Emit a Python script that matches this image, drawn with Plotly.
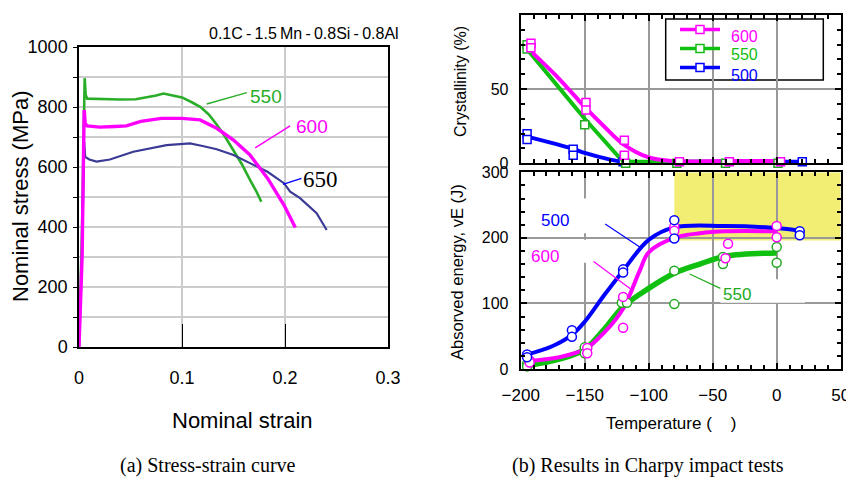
import plotly.graph_objects as go

# page body has an 8 px default margin: the figure is drawn from (8, 8)
OFF = 8
W, H = 846, 480

# ---------------- (a) stress-strain data ----------------
strain_550 = [0, 0.003, 0.0055, 0.0065, 0.008, 0.02, 0.04, 0.055, 0.065, 0.075, 0.082, 0.09, 0.1, 0.11, 0.118,
              0.126, 0.134, 0.142, 0.15, 0.158, 0.166, 0.172, 0.177]
stress_550 = [0, 400, 896, 840, 828, 826, 825, 826, 832, 838, 845, 840, 832, 815, 800, 775, 740, 700, 657, 610,
              557, 520, 484]
strain_600 = [0, 0.003, 0.005, 0.006, 0.008, 0.02, 0.035, 0.046, 0.06, 0.08, 0.1, 0.1175, 0.1337, 0.15, 0.166,
              0.183, 0.199, 0.21]
stress_600 = [0, 300, 790, 745, 737, 733, 735, 737, 752, 762, 762, 757, 729, 690, 640, 563, 473, 398]
strain_650 = [0, 0.003, 0.005, 0.006, 0.01, 0.017, 0.03, 0.0527, 0.085, 0.1078, 0.12, 0.1337, 0.15, 0.166,
              0.183, 0.199, 0.205, 0.2146, 0.2307, 0.2405]
stress_650 = [0, 300, 684, 634, 625, 618, 625, 651, 673, 679, 670, 659, 640, 612, 584, 546, 518, 496, 446, 390]

# ---------------- (b) crystallinity data ----------------
cr_line_T_600 = [-195, -170, -150, -135, -120, -100, -80, -40, 0]
cr_line_600 = [78, 57, 38, 25, 13, 4, 1.5, 1.5, 1.5]
cr_line_T_550 = [-195, -150, -120, -80, -40, 0]
cr_line_550 = [77, 30, 1, 1, 1, 1]
cr_line_T_500 = [-195, -160, -150, -130, -120, -80, 18]
cr_line_500 = [18, 10, 7, 2.5, 1, 1, 1]

cr_pts_T_600 = [-192, -192, -149, -149, -119, -119, -76, -37, 3]
cr_pts_600 = [81, 78, 41, 36, 15.5, 5.5, 1, 1, 1]
cr_pts_T_550 = [-195, -195, -150, -119, -118, -78, -40, 1]
cr_pts_550 = [80, 77, 26, 5, 0, 0, 0, 0]
cr_pts_T_500 = [-195, -195, -159, -159, -120, 20]
cr_pts_500 = [20, 16, 9.5, 5.5, 1, 1]

# ---------------- (b) absorbed energy data ----------------
ae_line_T_500 = [-195, -175, -160, -150, -135, -120, -100, -80, -40, 0, 18]
ae_line_500 = [22, 35, 52, 72, 112, 150, 197, 216, 218, 215, 211]
ae_line_T_600 = [-195, -170, -150, -135, -120, -107, -100, -80, -60, -40, 0]
ae_line_600 = [12, 18, 30, 55, 92, 150, 178, 200, 207, 210, 210]
ae_line_T_550 = [-195, -170, -150, -135, -120, -100, -80, -60, -40, 0]
ae_line_550 = [5, 15, 30, 60, 95, 123, 146, 160, 172, 177]

ae_pts_T_500 = [-195, -195, -160, -160, -120, -120, -80, -80, 18, 18]
ae_pts_500 = [22, 18, 59, 49, 152, 147, 227, 199, 210, 204]
ae_pts_T_600 = [-193, -193, -148, -148, -120, -120, -80, -80, -38, -40, 0, 0]
ae_pts_600 = [13, 10, 32, 24, 110, 63, 217, 211, 191, 169, 218, 201]
ae_pts_T_550 = [-195, -195, -150, -150, -121, -117, -80, -80, -42, -42, 0, 0]
ae_pts_550 = [8, 4, 33, 24, 101, 101, 150, 99, 171, 160, 186, 162]

legend_names = ["600", "550", "500"]

MAG = "#ff00ff"
GRN_L = "#2aae2a"
NAVY = "#3b3b96"
GRN = "#10c010"
GRN_M = "#22aa22"
BLU = "#0000ff"
legend_colors = [MAG, GRN, BLU]

SANS = "Liberation Sans, Arial, sans-serif"
SERIF = "Liberation Serif, Times New Roman, serif"


def px(x):
    return (x - OFF) / W


def py(y):
    return 1 - (y - OFF) / H


fig = go.Figure()

# left chart curves
fig.add_trace(go.Scatter(x=strain_550, y=stress_550, mode="lines", line=dict(color=GRN_L, width=2.6),
                         xaxis="x", yaxis="y", showlegend=False))
fig.add_trace(go.Scatter(x=strain_650, y=stress_650, mode="lines", line=dict(color=NAVY, width=2.2),
                         xaxis="x", yaxis="y", showlegend=False))
fig.add_trace(go.Scatter(x=strain_600, y=stress_600, mode="lines", line=dict(color=MAG, width=3.4),
                         xaxis="x", yaxis="y", showlegend=False))

# crystallinity
for T, v, c, shp in [(cr_line_T_500, cr_line_500, BLU, "spline"), (cr_line_T_550, cr_line_550, GRN, "linear"),
                     (cr_line_T_600, cr_line_600, MAG, "spline")]:
    fig.add_trace(go.Scatter(x=T, y=v, mode="lines", line=dict(color=c, width=4, shape=shp),
                             xaxis="x2", yaxis="y2", showlegend=False))
for T, v, c in [(cr_pts_T_500, cr_pts_500, BLU), (cr_pts_T_550, cr_pts_550, GRN_M), (cr_pts_T_600, cr_pts_600, MAG)]:
    fig.add_trace(go.Scatter(x=T, y=v, mode="markers",
                             marker=dict(symbol="square", size=8, color="white", line=dict(color=c, width=1.5)),
                             xaxis="x2", yaxis="y2", showlegend=False, cliponaxis=False))

# legend entries (symbols only; coloured texts added as annotations)
for name, c in zip(legend_names, legend_colors):
    fig.add_trace(go.Scatter(x=[None], y=[None], mode="lines+markers", name="", legendgroup=name,
                             line=dict(color=c, width=3.5),
                             marker=dict(symbol="square", size=8, color="white", line=dict(color=c, width=1.5)),
                             xaxis="x2", yaxis="y2", showlegend=True))

# absorbed energy
for T, v, c, w in [(ae_line_T_550, ae_line_550, GRN, 5.5), (ae_line_T_600, ae_line_600, MAG, 4),
                   (ae_line_T_500, ae_line_500, BLU, 4)]:
    fig.add_trace(go.Scatter(x=T, y=v, mode="lines", line=dict(color=c, width=w, shape="spline"),
                             xaxis="x3", yaxis="y3", showlegend=False))
for T, v, c in [(ae_pts_T_550, ae_pts_550, GRN_M), (ae_pts_T_600, ae_pts_600, MAG), (ae_pts_T_500, ae_pts_500, BLU)]:
    fig.add_trace(go.Scatter(x=T, y=v, mode="markers",
                             marker=dict(symbol="circle", size=9, color="white", line=dict(color=c, width=1.5)),
                             xaxis="x3", yaxis="y3", showlegend=False, cliponaxis=False))

# ---------------- axes ----------------
left_dom_x = [px(79), px(388)]
right_dom_x = [px(520.7), px(840.7)]

fig.update_layout(
    template="none",
    width=W, height=H, margin=dict(l=0, r=0, t=0, b=0, autoexpand=False),
    paper_bgcolor="white", plot_bgcolor="white",
    font=dict(family=SANS, color="black"),
    xaxis=dict(domain=left_dom_x, range=[0, 0.3], anchor="y", dtick=0.1, tick0=0, automargin=False,
               showgrid=True, gridcolor="#cccccc", gridwidth=1.5, zeroline=False,
               showline=True, linecolor="black", linewidth=1.5, mirror=True,
               ticks="inside", ticklen=23, tickcolor="black", tickwidth=1.2,
               tickfont=dict(size=18), ticklabelstandoff=14),
    yaxis=dict(domain=[py(347), py(47)], range=[0, 1000], anchor="x", dtick=200, tick0=0, automargin=False,
               showgrid=True, gridcolor="#cccccc", gridwidth=1.5, zeroline=False,
               showline=True, linecolor="black", linewidth=1.5, mirror=True,
               ticks="outside", ticklen=4, tickcolor="black",
               minor=dict(dtick=100, showgrid=True, gridcolor="#cccccc", gridwidth=1.5, ticks="outside",
                          ticklen=4, tickcolor="black"),
               tickfont=dict(size=18), ticklabelstandoff=2),
    xaxis2=dict(domain=right_dom_x, range=[-200, 50], anchor="y2", dtick=50, tick0=-200, automargin=False,
                showticklabels=False, showgrid=True, gridcolor="#999999", gridwidth=1.5, zeroline=False,
                showline=True, linecolor="black", linewidth=2, mirror="allticks",
                ticks="inside", ticklen=6, tickcolor="black", tickwidth=1.5,
                minor=dict(dtick=10, ticks="inside", ticklen=4, tickcolor="black", showgrid=False)),
    yaxis2=dict(domain=[py(163.3), py(15)], range=[0, 100], anchor="x2", dtick=50, tick0=0, automargin=False,
                showgrid=True, gridcolor="#999999", gridwidth=1.5, zeroline=False,
                showline=True, linecolor="black", linewidth=2, mirror="allticks",
                ticks="inside", ticklen=6, tickcolor="black", tickwidth=1.5,
                minor=dict(dtick=10, ticks="inside", ticklen=4, tickcolor="black", showgrid=False),
                tickfont=dict(size=16), ticklabelstandoff=7),
    xaxis3=dict(domain=right_dom_x, range=[-200, 50], anchor="y3", dtick=50, tick0=-200, automargin=False,
                showgrid=True, gridcolor="#999999", gridwidth=1.5, zeroline=False,
                showline=True, linecolor="black", linewidth=2, mirror="allticks",
                ticks="inside", ticklen=6, tickcolor="black", tickwidth=1.5,
                minor=dict(dtick=10, ticks="inside", ticklen=4, tickcolor="black", showgrid=False),
                tickfont=dict(size=17), ticklabelstandoff=10),
    yaxis3=dict(domain=[py(369), py(172.3)], range=[0, 300], anchor="x3", dtick=100, tick0=0, automargin=False,
                showgrid=True, gridcolor="#999999", gridwidth=1.5, zeroline=False,
                showline=True, linecolor="black", linewidth=2, mirror="allticks",
                ticks="inside", ticklen=6, tickcolor="black", tickwidth=1.5,
                minor=dict(dtick=20, ticks="inside", ticklen=4, tickcolor="black", showgrid=False),
                tickfont=dict(size=16), ticklabelstandoff=7),
    legend=dict(x=px(675), y=py(15), xanchor="left", yanchor="top", bgcolor="rgba(0,0,0,0)",
                borderwidth=0, font=dict(size=11, family=SANS),
                itemwidth=40, tracegroupgap=0),
)

shapes = [
    dict(type="rect", xref="x3", yref="y3", x0=-80, x1=50, y0=196, y1=300, fillcolor="#f2ee74",
         line=dict(width=0), layer="below"),
    dict(type="rect", xref="x3", yref="y3", x0=-190, x1=-140, y0=207, y1=260, fillcolor="white",
         line=dict(width=0), layer="between"),
    dict(type="rect", xref="x3", yref="y3", x0=-190, x1=-140, y0=162, y1=197, fillcolor="white",
         line=dict(width=0), layer="between"),
    dict(type="rect", xref="x3", yref="y3", x0=-44, x1=22, y0=101, y1=137, fillcolor="white",
         line=dict(width=0), layer="between"),
    # legend frame
    dict(type="rect", xref="paper", yref="paper", x0=px(665.7), x1=px(823.3), y0=py(80), y1=py(19),
         fillcolor="white", line=dict(color="black", width=1.5), layer="between"),
    # leader lines (b)
    dict(type="line", xref="x3", yref="y3", x0=-134, y0=221, x1=-107, y1=186, line=dict(color=BLU, width=1.2)),
    dict(type="line", xref="x3", yref="y3", x0=-143, y0=164, x1=-112, y1=119, line=dict(color=MAG, width=1.2)),
    dict(type="line", xref="x3", yref="y3", x0=-68, y0=145, x1=-44, y1=123, line=dict(color=GRN_M, width=1.2)),
    # leader lines (a)
    dict(type="line", xref="x", yref="y", x0=0.124, y0=810, x1=0.163, y1=848, line=dict(color=GRN_L, width=1.5)),
    dict(type="line", xref="x", yref="y", x0=0.171, y0=664, x1=0.205, y1=737, line=dict(color=MAG, width=1.5)),
    dict(type="line", xref="x", yref="y", x0=0.198, y0=542, x1=0.216, y1=562, line=dict(color=BLU, width=1.5)),
]

annotations = [
    dict(text="0.1C\u2009-\u20091.5\u2009Mn\u2009-\u20090.8Si\u2009-\u20090.8Al", xref="paper", yref="paper",
         x=px(401), y=py(33), xanchor="right", yanchor="middle", showarrow=False, font=dict(size=16, family=SANS)),
    dict(text="Nominal stress (MPa)", xref="paper", yref="paper", x=px(20), y=py(197), textangle=-90,
         showarrow=False, font=dict(size=22, family=SANS), xanchor="center", yanchor="middle"),
    dict(text="Nominal strain", xref="paper", yref="paper", x=px(242), y=py(420), showarrow=False,
         font=dict(size=22, family=SANS), xanchor="center", yanchor="middle"),
    dict(text="550", xref="x", yref="y", x=0.182, y=834, showarrow=False, font=dict(size=19, color=GRN_L),
         xanchor="center", yanchor="middle"),
    dict(text="600", xref="x", yref="y", x=0.226, y=734, showarrow=False, font=dict(size=19, color=MAG),
         xanchor="center", yanchor="middle"),
    dict(text="650", xref="x", yref="y", x=0.234, y=557, showarrow=False,
         font=dict(size=23, color="black", family=SERIF), xanchor="center", yanchor="middle"),
    dict(text="Crystallinity (%)", xref="paper", yref="paper", x=px(460), y=py(82), textangle=-90,
         showarrow=False, font=dict(size=16, family=SANS), xanchor="center", yanchor="middle"),
    dict(text="Absorved energy, vE (J)", xref="paper", yref="paper", x=px(457), y=py(272), textangle=-90,
         showarrow=False, font=dict(size=16.5, family=SANS), xanchor="center", yanchor="middle"),
    dict(text="Temperature (\u00a0\u00a0\u00a0\u00a0)", xref="paper", yref="paper", x=px(671), y=py(423),
         showarrow=False, font=dict(size=17, family=SANS), xanchor="center", yanchor="middle"),
    dict(text="500", xref="x3", yref="y3", x=-173, y=227, showarrow=False, font=dict(size=17, color=BLU),
         xanchor="center", yanchor="middle"),
    dict(text="600", xref="x3", yref="y3", x=-181, y=171, showarrow=False, font=dict(size=17, color=MAG),
         xanchor="center", yanchor="middle"),
    dict(text="550", xref="x3", yref="y3", x=-31, y=113, showarrow=False, font=dict(size=17, color=GRN_M),
         xanchor="center", yanchor="middle"),
    dict(text="(a) Stress-strain curve", xref="paper", yref="paper", x=px(208), y=py(465), showarrow=False,
         font=dict(size=20, family=SERIF), xanchor="center", yanchor="middle"),
    dict(text="(b) Results in Charpy impact tests", xref="paper", yref="paper", x=px(648), y=py(465),
         showarrow=False, font=dict(size=20, family=SERIF), xanchor="center", yanchor="middle"),
]

# coloured legend texts
for name, c, ly in zip(legend_names, legend_colors, [36, 55, 75]):
    annotations.append(dict(text=name, xref="paper", yref="paper", x=px(729), y=py(ly), xanchor="left",
                            yanchor="middle", showarrow=False, font=dict(size=16, color=c, family=SANS)))

fig.update_layout(shapes=shapes, annotations=annotations)
fig.write_html("out.html")
